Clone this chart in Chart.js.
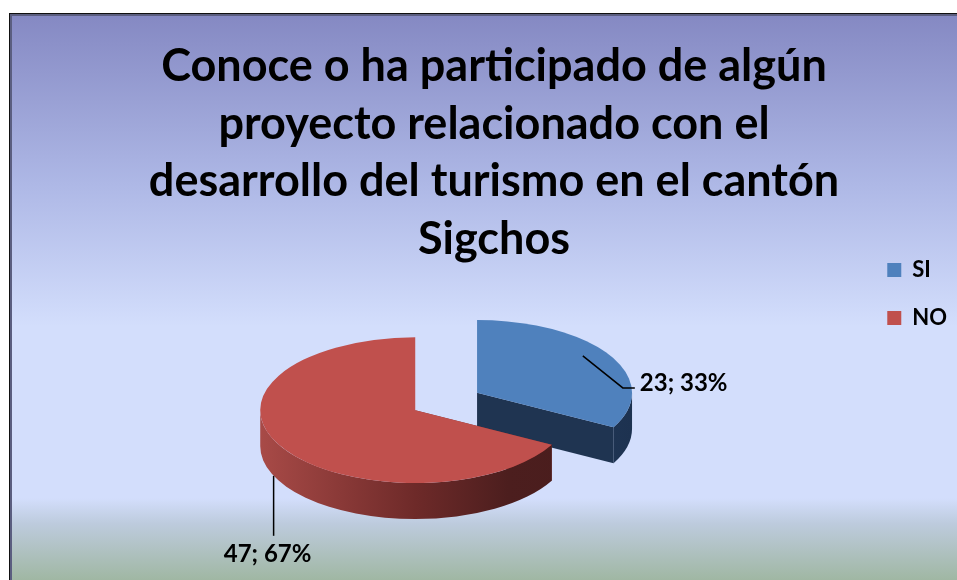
<!DOCTYPE html>
<html>
<head>
<meta charset="utf-8">
<script src="https://cdn.jsdelivr.net/npm/chart.js@4.4.0/dist/chart.umd.min.js"></script>
<style>
  html, body { margin: 0; padding: 0; background: #fff; }
  #wrap { width: 957px; height: 580px; }
</style>
</head>
<body>
<div id="wrap"><canvas id="pie"></canvas></div>
<script>
// respuestas de la encuesta
var categorias = ["SI", "NO"];
var respuestas = [23, 47];
var titulo = [
  "Conoce o ha participado de algún",
  "proyecto relacionado con el",
  "desarrollo del turismo en el cantón",
  "Sigchos"
];

var colores = ["#4F81BD", "#C0504D"];
var paredes = ["#1F3451", "#7A2E2C"];

var INCLINACION = 0.47; // relacion alto/ancho de la elipse
var GROSOR = 36;        // alto de la pared lateral
var FUENTE = "Lato";

function punto(s, a, dy) {
  return [s.cx + s.rx * Math.cos(a), s.cy + s.ry * Math.sin(a) + (dy || 0)];
}

// fondo degradado con marco
var fondo = {
  id: "fondo",
  beforeDraw: function(chart) {
    var ctx = chart.ctx, w = chart.width, h = chart.height;
    ctx.save();
    ctx.fillStyle = "#fff";
    ctx.fillRect(0, 0, w, h);
    ctx.fillStyle = "#111";
    ctx.fillRect(9, 13, w, h);
    ctx.fillStyle = "#5B5E80";
    ctx.fillRect(10, 14, w, h);
    var g = ctx.createLinearGradient(0, 16, 0, h);
    g.addColorStop(0, "#8589C3");
    g.addColorStop(0.3, "#AEB8E6");
    g.addColorStop(0.55, "#D3DEFC");
    g.addColorStop(0.855, "#D3DEFC");
    g.addColorStop(0.9, "#BDCBDD");
    g.addColorStop(1, "#A0B7A3");
    ctx.fillStyle = g;
    ctx.fillRect(12, 16, w, h);
    ctx.restore();
  }
};

function dibujarPorcion(ctx, s) {
  // paredes radiales
  ctx.fillStyle = paredes[s.i];
  [s.a0, s.a1].forEach(function(a) {
    var e = punto(s, a);
    ctx.beginPath();
    ctx.moveTo(s.cx, s.cy);
    ctx.lineTo(e[0], e[1]);
    ctx.lineTo(e[0], e[1] + GROSOR);
    ctx.lineTo(s.cx, s.cy + GROSOR);
    ctx.closePath();
    ctx.fill();
  });

  // pared exterior, solo la mitad delantera
  var g = ctx.createLinearGradient(s.cx - s.rx, 0, s.cx + s.rx, 0);
  if (s.i === 1) {
    g.addColorStop(0, "#A84A47");
    g.addColorStop(0.5, "#6E2A29");
    g.addColorStop(0.8, "#4C1E1E");
    g.addColorStop(1, "#4A1D1D");
  } else {
    g.addColorStop(0, "#2B4A73");
    g.addColorStop(1, "#1D3250");
  }
  [[0, Math.PI], [2 * Math.PI, 3 * Math.PI]].forEach(function(r) {
    var desde = Math.max(s.a0, r[0]), hasta = Math.min(s.a1, r[1]);
    if (hasta <= desde) return;
    ctx.beginPath();
    ctx.ellipse(s.cx, s.cy, s.rx, s.ry, 0, desde, hasta, false);
    ctx.ellipse(s.cx, s.cy + GROSOR, s.rx, s.ry, 0, hasta, desde, true);
    ctx.closePath();
    ctx.fillStyle = g;
    ctx.fill();
  });

  // cara superior
  ctx.beginPath();
  ctx.moveTo(s.cx, s.cy);
  ctx.ellipse(s.cx, s.cy, s.rx, s.ry, 0, s.a0, s.a1, false);
  ctx.closePath();
  ctx.fillStyle = colores[s.i];
  ctx.fill();
}

function dibujarEtiqueta(ctx, s, total) {
  var valor = respuestas[s.i];
  var texto = valor + "; " + Math.round(valor / total * 100) + "%";
  ctx.strokeStyle = "#000";
  ctx.lineWidth = 1.5;
  ctx.fillStyle = "#000";
  ctx.font = "bold 24px " + FUENTE;
  ctx.textBaseline = "middle";
  if (Math.sin(s.mid) < 0) {
    // porcion de atras: linea quebrada hacia la derecha
    var ang = s.mid - 0.1;
    var a = [s.cx + 0.85 * s.rx * Math.cos(ang), s.cy + 0.85 * s.ry * Math.sin(ang)];
    ctx.beginPath();
    ctx.moveTo(a[0], a[1]);
    ctx.lineTo(a[0] + 40, a[1] + 32);
    ctx.lineTo(a[0] + 52, a[1] + 32);
    ctx.stroke();
    ctx.textAlign = "left";
    ctx.fillText(texto, a[0] + 57, a[1] + 27);
  } else {
    // porcion de adelante: linea vertical hacia abajo
    var b = punto(s, s.mid + 0.12, GROSOR);
    ctx.beginPath();
    ctx.moveTo(b[0], b[1]);
    ctx.lineTo(b[0], b[1] + 60);
    ctx.stroke();
    ctx.textAlign = "center";
    ctx.fillText(texto, b[0] - 6, b[1] + 78);
  }
}

// pastel 3D a partir de los arcos de Chart.js
var pastel3d = {
  id: "pastel3d",
  beforeDatasetsDraw: function(chart) {
    var ctx = chart.ctx;
    var meta = chart.getDatasetMeta(0);
    var total = respuestas.reduce(function(a, b) { return a + b; }, 0);
    var porciones = meta.data.map(function(arc, i) {
      var p = arc.getProps(["x", "y", "startAngle", "endAngle", "outerRadius"], true);
      var mid = (p.startAngle + p.endAngle) / 2;
      var off = arc.options.offset || 0;
      var rx = p.outerRadius;
      return {
        i: i, a0: p.startAngle, a1: p.endAngle, mid: mid,
        rx: rx, ry: rx * INCLINACION,
        cx: p.x + off * Math.cos(mid),
        cy: p.y - GROSOR / 2 + off * Math.sin(mid) * INCLINACION
      };
    });
    ctx.save();
    porciones.slice().sort(function(a, b) { return Math.sin(a.mid) - Math.sin(b.mid); })
      .forEach(function(s) { dibujarPorcion(ctx, s); });
    porciones.forEach(function(s) { dibujarEtiqueta(ctx, s, total); });
    ctx.restore();
    return false;
  }
};

new Chart(document.getElementById("pie"), {
  type: "pie",
  data: {
    labels: categorias,
    datasets: [{
      data: respuestas,
      backgroundColor: colores,
      borderWidth: 0,
      offset: 36,
      hoverOffset: 0,
      radius: 155
    }]
  },
  options: {
    responsive: true,
    maintainAspectRatio: false,
    animation: false,
    events: [],
    layout: { padding: { left: 31, right: 0, top: 38, bottom: 30 } },
    plugins: {
      title: {
        display: true,
        text: titulo,
        color: "#000",
        font: { family: FUENTE, size: 45, weight: "bold", lineHeight: 1.278 },
        padding: { top: 0, bottom: 21 }
      },
      legend: {
        position: "right",
        fullSize: true,
        labels: {
          boxWidth: 14,
          boxHeight: 14,
          padding: 26,
          color: "#000",
          font: { family: FUENTE, size: 22, weight: "bold" }
        }
      },
      tooltip: { enabled: false }
    }
  },
  plugins: [fondo, pastel3d]
});
</script>
</body>
</html>
